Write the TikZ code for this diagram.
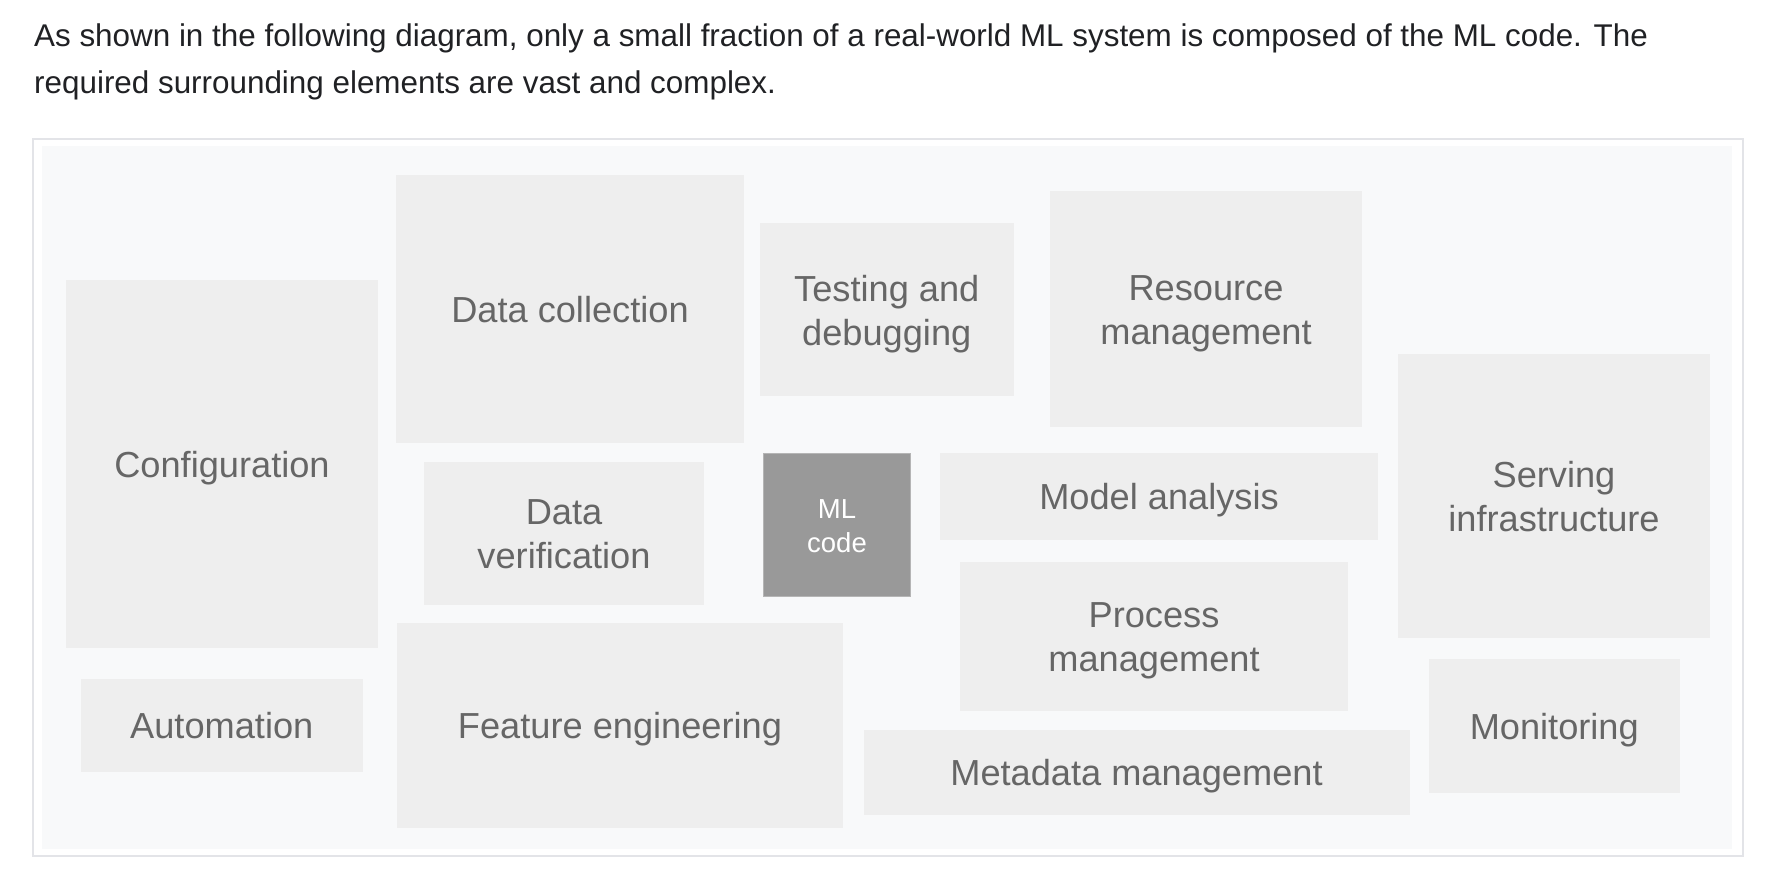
\documentclass[tikz,border=0pt]{standalone}
\usepackage{fontspec}
\setmainfont{Liberation Sans}
\definecolor{bodytext}{HTML}{202124}
\definecolor{panelbg}{HTML}{F8F9FA}
\definecolor{panelline}{HTML}{E3E4E8}
\definecolor{boxfill}{HTML}{EEEEEE}
\definecolor{boxtext}{HTML}{666666}
\definecolor{mlfill}{HTML}{999999}
\definecolor{mlline}{HTML}{B5B5B5}
\begin{document}
\begin{tikzpicture}[x=1pt,y=-1pt,
  lbl/.style={inner sep=0pt, align=center, text=boxtext,
    font=\fontsize{36.2}{44}\selectfont,
    execute at begin node=\strut, execute at end node=\strut},
  blk/.style={fill=boxfill, draw=none, inner sep=0pt, outer sep=0pt,
    label={[lbl, yshift=-4.5pt]center:#1}},
  blktwo/.style={fill=boxfill, draw=none, inner sep=0pt, outer sep=0pt,
    label={[lbl, yshift=-7.5pt]center:#1}},
  mllbl/.style={inner sep=0pt, align=center, text=white, yshift=-1.5pt,
    font=\fontsize{27.5}{34}\selectfont},
  mlblk/.style={fill=mlfill, draw=mlline, line width=1pt, inner sep=0pt, outer sep=0pt,
    label={[mllbl]center:#1}},
  bodyline/.style={anchor=base west, inner sep=0pt, text=bodytext,
    font=\fontsize{31.4}{46.7}\selectfont}]
\useasboundingbox (0,0) rectangle (1780,886);
\fill[white] (0,0) rectangle (1780,886);
% intro text
\node[bodyline] (line1) at (34,46) {As shown in the following diagram, only a small fraction of a real-world ML system is composed of the ML code. The};
\node[bodyline] (line2) at (34,93.5) {required surrounding elements are vast and complex.};
% panel
\draw[panelline, line width=2pt, fill=white] (32.5,139) rectangle (1743,856);
\fill[panelbg] (42,146) rectangle (1732,849);
% blocks
\node[blk={Configuration}, minimum width=312pt, minimum height=368pt] (config) at (222,464) {};
\node[blk={Data collection}, minimum width=348pt, minimum height=268.5pt] (datacol) at (570,308.75) {};
\node[blktwo={Testing and\\debugging}, minimum width=253.5pt, minimum height=173pt] (testing) at (886.75,309) {};
\node[blktwo={Resource\\management}, minimum width=312pt, minimum height=236.5pt] (resource) at (1206,308.75) {};
\node[blktwo={Serving\\infrastructure}, minimum width=312pt, minimum height=283.5pt] (serving) at (1554,495.75) {};
\node[blktwo={Data\\verification}, minimum width=280pt, minimum height=143pt] (dataver) at (564,533.5) {};
\node[mlblk={ML\\code}, minimum width=147pt, minimum height=143pt] (mlcode) at (837,525) {};
\node[blk={Model analysis}, minimum width=438pt, minimum height=87pt] (model) at (1159,496) {};
\node[blktwo={Process\\management}, minimum width=388pt, minimum height=149pt] (process) at (1154,636.5) {};
\node[blk={Automation}, minimum width=282.5pt, minimum height=93pt] (automation) at (221.75,725.5) {};
\node[blk={Feature engineering}, minimum width=446pt, minimum height=205pt] (feature) at (620,725.5) {};
\node[blk={Metadata management}, minimum width=546pt, minimum height=85.5pt] (metadata) at (1136.5,772.25) {};
\node[blk={Monitoring}, minimum width=250.5pt, minimum height=133.5pt] (monitoring) at (1554.25,725.75) {};
\end{tikzpicture}
\end{document}
